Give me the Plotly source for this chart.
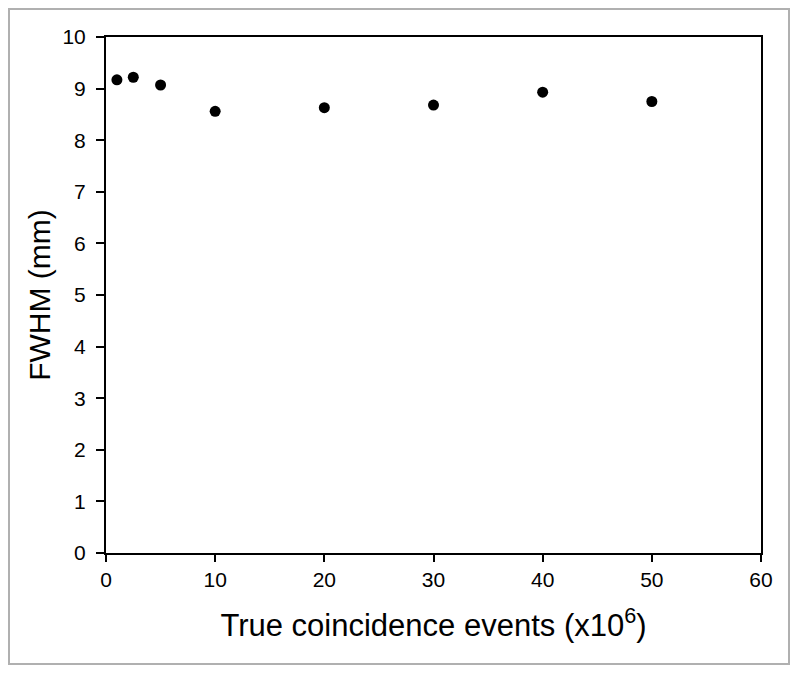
import plotly.graph_objects as go

events = [1, 2.5, 5, 10, 20, 30, 40, 50]
fwhm = [9.17, 9.22, 9.07, 8.56, 8.63, 8.68, 8.93, 8.75]
x_ticks = [0, 10, 20, 30, 40, 50, 60]
y_ticks = list(range(0, 11))

FONT = "Arial, Liberation Sans, sans-serif"

fig = go.Figure()
fig.add_trace(go.Scatter(x=events, y=fwhm, mode="markers",
                         marker=dict(color="black", size=11, symbol="circle"),
                         showlegend=False))

axis_common = dict(showline=True, linecolor="black", linewidth=2, mirror=True,
                   ticks="outside", tickwidth=1.5, tickcolor="black",
                   showgrid=False, zeroline=False,
                   tickfont=dict(family=FONT, size=21, color="black"))

fig.update_xaxes(range=[0, 60], tickvals=x_ticks, ticklen=7,
                 title=dict(text="True coincidence events (x10<sup>6</sup>)",
                            font=dict(family=FONT, size=31, color="black"),
                            standoff=24),
                 **axis_common)
fig.update_yaxes(range=[0, 10], tickvals=y_ticks, ticklen=8, ticklabelstandoff=6,
                 title=dict(text="FWHM (mm)",
                            font=dict(family=FONT, size=30, color="black"),
                            standoff=3),
                 **axis_common)

# page body has an 8px offset, so the figure is sized/margined to compensate
fig.add_shape(type="rect", xref="paper", yref="paper",
              x0=-97/655, x1=(789-106)/655, y0=-(664-553)/516, y1=1 + 28/516,
              line=dict(color="#b0b0b0", width=2), layer="below")

fig.update_layout(width=792, height=666, plot_bgcolor="white", paper_bgcolor="white",
                  margin=dict(l=98, r=39, t=29, b=121))

fig.write_html("out.html")
